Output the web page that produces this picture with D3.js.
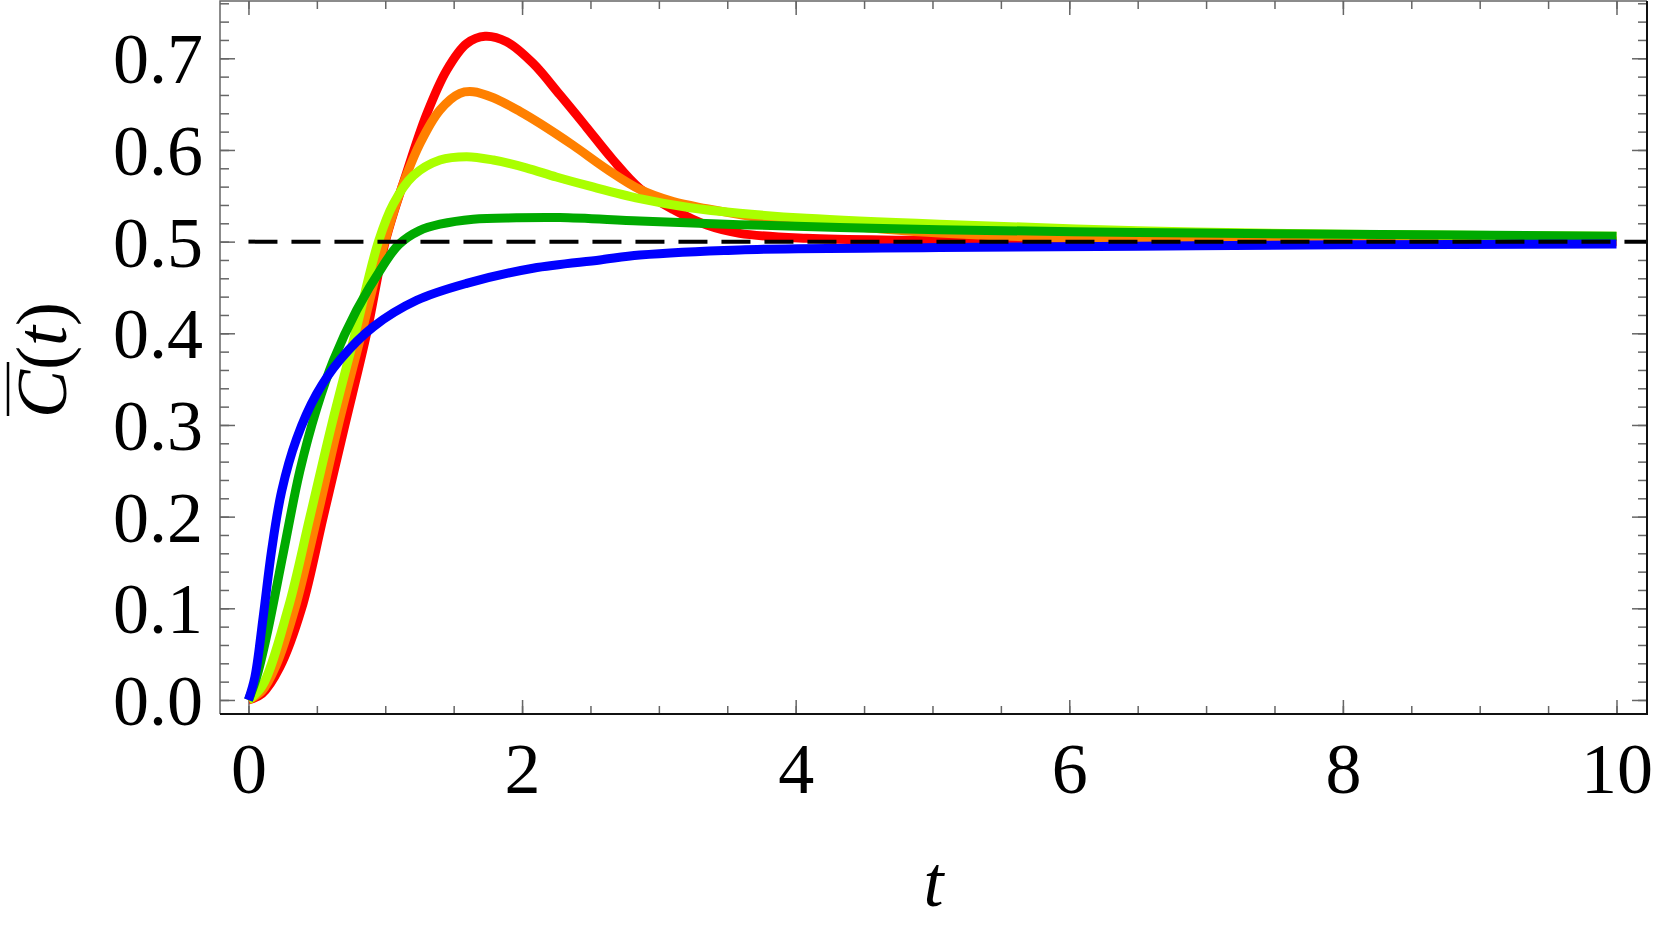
<!DOCTYPE html>
<html>
<head>
<meta charset="utf-8">
<script src="https://cdn.jsdelivr.net/npm/d3@7"></script>
<style>
  body { margin: 0; background: #fff; }
  svg { display: block; font-family: "Liberation Serif", "Times New Roman", serif; }
  .tick line { stroke: #666; stroke-width: 1.5; }
  .tick text { fill: #000; }
</style>
</head>
<body>
<svg id="chart" width="1661" height="926"></svg>
<script>
// Curve samples: [t, C(t)]
const redPts = [[0, 0], [0.1, 0.007], [0.23, 0.036], [0.389, 0.1], [0.547, 0.2], [0.705, 0.3], [0.864, 0.4],
  [1.0, 0.5], [1.156, 0.575], [1.3, 0.638], [1.449, 0.687], [1.595, 0.716], [1.73, 0.724], [1.887, 0.718],
  [2.08, 0.6945], [2.277, 0.66], [2.47, 0.625], [2.66, 0.59], [2.86, 0.558], [3.105, 0.535], [3.35, 0.518],
  [3.59, 0.509], [4.08, 0.5036], [4.8, 0.5015], [6, 0.5005], [8, 0.5], [10, 0.5]];

const orangePts = [[0, 0], [0.1, 0.01], [0.2, 0.037], [0.34, 0.1], [0.503, 0.2], [0.657, 0.3], [0.827, 0.4],
  [0.985, 0.494], [1.107, 0.553], [1.254, 0.607], [1.4, 0.6436], [1.546, 0.6618], [1.643, 0.6636], [1.79, 0.657],
  [1.985, 0.642], [2.13, 0.629], [2.374, 0.605], [2.62, 0.579], [2.86, 0.557], [3.105, 0.5436], [3.35, 0.536],
  [3.84, 0.5236], [4.57, 0.5145], [5.05, 0.5095], [5.86, 0.5045], [7.45, 0.502], [10, 0.501]];

const yellowPts = [[0, 0], [0.1, 0.015], [0.29, 0.1], [0.45, 0.2], [0.608, 0.3], [0.78, 0.4], [0.95, 0.5],
  [1.058, 0.541], [1.205, 0.572], [1.4, 0.589], [1.595, 0.5927], [1.79, 0.589], [2.03, 0.5805], [2.25, 0.5705],
  [2.496, 0.5605], [2.86, 0.547], [3.23, 0.537], [3.59, 0.531], [4.08, 0.5255], [5.05, 0.519], [6.5, 0.512],
  [8, 0.508], [10, 0.506]];

const greenPts = [[0, 0], [0.06, 0.025], [0.133, 0.07], [0.254, 0.16], [0.376, 0.25], [0.499, 0.318],
  [0.62, 0.37], [0.79, 0.425], [0.985, 0.474], [1.1, 0.497], [1.25, 0.512], [1.4, 0.519], [1.643, 0.5245],
  [1.96, 0.526], [2.277, 0.5262], [2.86, 0.5225], [3.59, 0.5185], [4.32, 0.5155], [5.05, 0.513], [6.5, 0.51],
  [8, 0.508], [10, 0.506]];

const bluePts = [[0, 0], [0.047, 0.025], [0.108, 0.091], [0.17, 0.164], [0.243, 0.228], [0.352, 0.285],
  [0.499, 0.334], [0.669, 0.371], [0.912, 0.407], [1.23, 0.436], [1.595, 0.4545], [2.08, 0.471], [2.57, 0.48],
  [2.86, 0.4854], [3.59, 0.491], [5.05, 0.4935], [6.5, 0.495], [8, 0.4965], [10, 0.4975]];

const seriesColors = ["#ff0000", "#ff8000", "#aaff00", "#00aa00", "#0000ff"];
const xTicks = [0, 2, 4, 6, 8, 10];
const yTicks = [0, 0.1, 0.2, 0.3, 0.4, 0.5, 0.6, 0.7];
const asymptote = 0.5;

const svg = d3.select("#chart");
const frame = { left: 220, right: 1647, top: 1, bottom: 714 };

const x = d3.scaleLinear().domain([-0.208, 10.223]).range([frame.left, frame.right]);
const y = d3.scaleLinear().domain([-0.0153, 0.7625]).range([frame.bottom, frame.top]);

const xMinor = d3.range(0, 10.01, 0.5);
const yMinor = d3.range(0, 0.7601, 0.02);

// d3 axes set their own sans-serif font, put the serif one back
function serif(g) {
  g.attr("font-family", "'Liberation Serif', 'Times New Roman', serif").attr("font-size", 72);
  g.select(".domain").remove();
}

// minor ticks on all four sides
function tickOnly(axis, values, size, tx, ty) {
  svg.append("g")
    .attr("transform", "translate(" + tx + "," + ty + ")")
    .call(axis.tickValues(values).tickSize(size).tickFormat(""))
    .call(serif);
}
tickOnly(d3.axisBottom(x), xMinor, -8, 0, frame.bottom);
tickOnly(d3.axisTop(x), xMinor, -8, 0, frame.top);
tickOnly(d3.axisLeft(y), yMinor, -9, frame.left, 0);
tickOnly(d3.axisRight(y), yMinor, -9, frame.right, 0);
tickOnly(d3.axisTop(x), xTicks, -14, 0, frame.top);
tickOnly(d3.axisRight(y), yTicks, -15, frame.right, 0);

// major ticks with labels
svg.append("g")
  .attr("transform", "translate(0," + frame.bottom + ")")
  .call(d3.axisBottom(x).tickValues(xTicks).tickSize(-14).tickPadding(28).tickFormat(d3.format("d")))
  .call(serif);

svg.append("g")
  .attr("transform", "translate(" + frame.left + ",0)")
  .call(d3.axisLeft(y).tickValues(yTicks).tickSize(-15).tickPadding(17).tickFormat(d3.format(".1f")))
  .call(serif)
  .call(g => g.selectAll("text").attr("dy", "0.34em"));

// curves
const line = d3.line()
  .x(d => x(d[0]))
  .y(d => y(d[1]))
  .curve(d3.curveCatmullRom.alpha(0.5));

const allSeries = [redPts, orangePts, yellowPts, greenPts, bluePts];
svg.append("g")
  .selectAll("path")
  .data(allSeries)
  .join("path")
  .attr("d", line)
  .attr("fill", "none")
  .attr("stroke", (d, i) => seriesColors[i])
  .attr("stroke-width", 9)
  .attr("stroke-linejoin", "round");

// dashed asymptote
svg.append("line")
  .attr("x1", x(0)).attr("x2", frame.right)
  .attr("y1", y(asymptote)).attr("y2", y(asymptote))
  .attr("stroke", "#000")
  .attr("stroke-width", 4)
  .attr("stroke-dasharray", "29,14");

// frame
svg.append("path")
  .attr("d", "M" + frame.left + "," + frame.bottom + "V" + frame.top + "H" + frame.right)
  .attr("fill", "none").attr("stroke", "#666").attr("stroke-width", 1.5);
svg.append("path")
  .attr("d", "M" + frame.left + "," + frame.bottom + "H" + frame.right + "V" + frame.top)
  .attr("fill", "none").attr("stroke", "#111").attr("stroke-width", 2);

// axis titles
svg.append("text")
  .attr("x", (frame.left + frame.right) / 2)
  .attr("y", 906)
  .attr("text-anchor", "middle")
  .attr("font-size", 72)
  .attr("font-style", "italic")
  .text("t");

const yLab = svg.append("g").attr("transform", "translate(66,360) rotate(-90)");
const yText = yLab.append("text")
  .attr("text-anchor", "middle")
  .attr("font-size", 72);
yText.append("tspan").attr("font-style", "italic").text("C");
yText.append("tspan").text("(");
yText.append("tspan").attr("font-style", "italic").text("t");
yText.append("tspan").text(")");

const total = yText.node().getComputedTextLength();
const cWidth = yText.node().getSubStringLength(0, 1);
yLab.append("line")
  .attr("x1", -total / 2 + 2).attr("x2", -total / 2 + cWidth + 8)
  .attr("y1", -58).attr("y2", -58)
  .attr("stroke", "#000").attr("stroke-width", 2.5);
</script>
</body>
</html>
